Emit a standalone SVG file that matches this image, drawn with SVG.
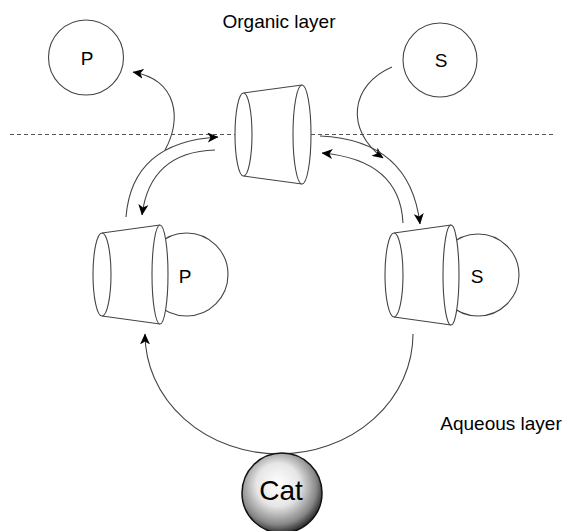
<svg xmlns="http://www.w3.org/2000/svg" width="563" height="531" viewBox="0 0 563 531">
<style>
.ln{fill:none;stroke:#444;stroke-width:1.1}
.sh{fill:#fff;stroke:#444;stroke-width:1.1}
.bd{fill:#fff;stroke:none}
.t{font-family:"Liberation Sans",Arial,sans-serif;font-size:19px;fill:#000}
.c{text-anchor:middle}
</style>
<defs>
<marker id="ah" markerUnits="userSpaceOnUse" viewBox="0 0 11 10" markerWidth="11" markerHeight="10" refX="10.5" refY="5" orient="auto">
<path d="M0,0 L11,5 L0,10 L3,5 Z" fill="#000"/>
</marker>
<radialGradient id="sph" cx="45%" cy="42%" r="60%" fx="45%" fy="38%">
<stop offset="0" stop-color="#fff"/>
<stop offset="0.45" stop-color="#e6e6e6"/>
<stop offset="0.8" stop-color="#888"/>
<stop offset="1" stop-color="#222"/>
</radialGradient>
</defs>
<rect width="563" height="531" fill="#fff"/>
<line x1="10" y1="134.5" x2="556" y2="134.5" stroke="#555" stroke-width="1" stroke-dasharray="4,3"/>
<text class="t c" x="279" y="28">Organic layer</text>
<text class="t c" x="501" y="430">Aqueous layer</text>

<g id="connectors">
<path class="ln" d="M165,150 C182,120 178,80 133,72" marker-end="url(#ah)"/>
<path class="ln" d="M126,217 Q132,142 218,137" marker-end="url(#ah)"/>
<path class="ln" d="M215,150 Q150,152 142,215" marker-end="url(#ah)"/>
<path class="ln" d="M392,67 C350,85 345,130 383,158" marker-end="url(#ah)"/>
<path class="ln" d="M320,136 Q410,140 420,224" marker-end="url(#ah)"/>
<path class="ln" d="M403,223 Q400,160 322,153" marker-end="url(#ah)"/>
<path class="ln" d="M413,334 A134,120 0 0 1 145,334" marker-end="url(#ah)"/>
</g>

<g id="P_top">
<circle class="sh" cx="86" cy="57.5" r="37.5"/>
<text class="t c" x="87" y="65">P</text>
</g>
<g id="S_top">
<circle class="sh" cx="440" cy="60" r="37"/>
<text class="t c" x="441" y="67">S</text>
</g>

<g id="cone_top">
<path class="bd" d="M243.5,93 L302,85 L302,184 L243.5,176 Z"/>
<line class="ln" x1="243.5" y1="93" x2="302" y2="85"/>
<line class="ln" x1="243.5" y1="176" x2="302" y2="184"/>
<ellipse class="sh" cx="243.5" cy="134.5" rx="8.5" ry="41.5"/>
<ellipse class="sh" cx="302" cy="134.5" rx="9" ry="49.5"/>
</g>

<g id="cone_P">
<circle class="sh" cx="186.5" cy="274.5" r="41.5"/>
<path class="bd" d="M102,233 L160,225 L160,324 L102,316 Z"/>
<line class="ln" x1="102" y1="233" x2="160" y2="225"/>
<line class="ln" x1="102" y1="316" x2="160" y2="324"/>
<ellipse class="sh" cx="102" cy="274.5" rx="9" ry="41.5"/>
<ellipse class="sh" cx="160" cy="274.5" rx="8" ry="49.5"/>
<text class="t c" x="185" y="283">P</text>
</g>

<g id="cone_S">
<circle class="sh" cx="478" cy="275" r="41"/>
<path class="bd" d="M394,233 L451,225 L451,325 L394,317 Z"/>
<line class="ln" x1="394" y1="233" x2="451" y2="225"/>
<line class="ln" x1="394" y1="317" x2="451" y2="325"/>
<ellipse class="sh" cx="394" cy="275" rx="9" ry="42"/>
<ellipse class="sh" cx="451" cy="275" rx="8" ry="50"/>
<text class="t c" x="477" y="283">S</text>
</g>

<g id="Cat">
<circle cx="282" cy="493" r="40" fill="url(#sph)" stroke="#111" stroke-width="1.5"/>
<text class="t c" x="281" y="500" style="font-size:28px">Cat</text>
</g>
</svg>
